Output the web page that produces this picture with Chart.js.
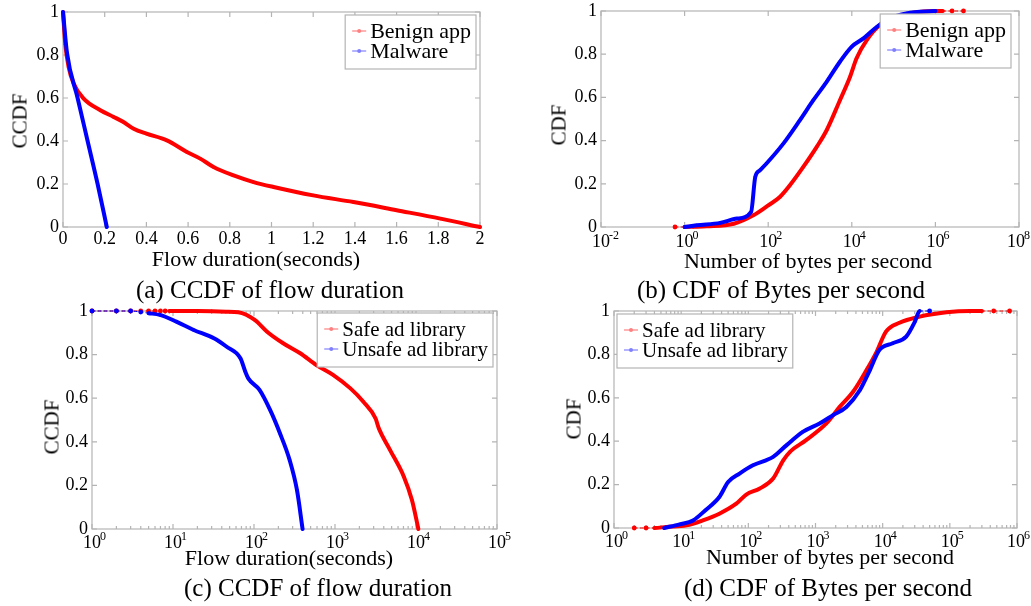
<!DOCTYPE html>
<html>
<head>
<meta charset="utf-8">
<script src="https://cdn.jsdelivr.net/npm/chart.js@4.4.0/dist/chart.umd.min.js"></script>
<style>
html,body{margin:0;padding:0;background:#fff;}
#wrap{position:relative;width:1031px;height:606px;overflow:hidden;font-family:'Liberation Serif','Times New Roman',serif;color:#000;}
canvas{position:absolute;left:0;top:0;}
.t{position:absolute;white-space:nowrap;transform:translate(-50%,-50%);line-height:1;}
.yt{transform:translate(-50%,-50%) rotate(-90deg);}
</style>
</head>
<body>
<div id="wrap">
<canvas id="ca" width="1031" height="606"></canvas>
<canvas id="cb" width="1031" height="606"></canvas>
<canvas id="cc" width="1031" height="606"></canvas>
<canvas id="cd" width="1031" height="606"></canvas>

<div class="t yt" style="left:20px;top:121px;font-size:21px">CCDF</div>
<div class="t" style="left:256px;top:259px;font-size:22px">Flow duration(seconds)</div>
<div class="t" style="left:270px;top:289px;font-size:25px">(a) CCDF of flow duration</div>

<div class="t yt" style="left:559px;top:125px;font-size:21px">CDF</div>
<div class="t" style="left:808px;top:261px;font-size:22px">Number of bytes per second</div>
<div class="t" style="left:781px;top:289px;font-size:25px">(b) CDF of Bytes per second</div>

<div class="t yt" style="left:52px;top:427px;font-size:21px">CCDF</div>
<div class="t" style="left:289px;top:558px;font-size:22px">Flow duration(seconds)</div>
<div class="t" style="left:318px;top:587px;font-size:25px">(c) CCDF of flow duration</div>

<div class="t yt" style="left:574px;top:419px;font-size:21px">CDF</div>
<div class="t" style="left:830px;top:557px;font-size:22px">Number of bytes per second</div>
<div class="t" style="left:828px;top:587px;font-size:25px">(d) CDF of Bytes per second</div>
</div>

<script>
// ---------------- DATA ----------------
// (a) CCDF of flow duration (seconds)
const aBenignX  = [0, 0.011, 0.027, 0.051, 0.099, 0.179, 0.243, 0.29, 0.339, 0.40, 0.498, 0.594, 0.658, 0.722, 0.818, 0.914, 1.01, 1.20, 1.393, 1.6, 1.81, 2.0];
const aBenignY  = [1.0, 0.85, 0.744, 0.667, 0.597, 0.543, 0.512, 0.488, 0.457, 0.434, 0.403, 0.349, 0.318, 0.279, 0.24, 0.209, 0.186, 0.147, 0.116, 0.078, 0.039, 0];
const aMalwareX = [0, 0.019, 0.07, 0.118, 0.166, 0.21];
const aMalwareY = [1, 0.81, 0.6, 0.4, 0.2, 0];
const aXTicks   = [0, 0.2, 0.4, 0.6, 0.8, 1, 1.2, 1.4, 1.6, 1.8, 2];

// (b) CDF of bytes per second
const bBenignX  = [0.59, 1.0, 1.6, 3.4, 15, 44, 100, 190, 330, 690, 1450, 2500, 5200, 9100, 13000, 23000, 47000, 117000, 295000, 890000, 1500000, 2500000, 4700000];
const bBenignY  = [0, 0, 0.001, 0.003, 0.015, 0.054, 0.1, 0.139, 0.193, 0.278, 0.371, 0.448, 0.587, 0.696, 0.781, 0.866, 0.935, 0.974, 0.992, 1.0, 1.0, 1.0, 1.0];
const bMalwareX = [1.0, 1.95, 7.1, 18, 39, 49, 63, 91, 230, 575, 1200, 2500, 5200, 10000, 19000, 40000, 81000, 204000, 1000000];
const bMalwareY = [0, 0.008, 0.019, 0.039, 0.07, 0.232, 0.262, 0.294, 0.386, 0.495, 0.587, 0.672, 0.765, 0.835, 0.873, 0.927, 0.966, 0.989, 1.0];
const bXTicks   = [0.01, 1, 100, 10000, 1000000, 100000000];

// (c) CCDF of flow duration (ad libraries)
const cSafeX    = [1, 2, 3, 4, 5, 6, 7, 8, 9, 10, 15, 20, 30, 45, 64, 102, 145, 229, 372, 589, 955, 1550, 2240, 3160, 3470, 4790, 7080, 8910, 10700];
const cSafeY    = [1, 1, 1, 1, 1, 1, 1, 1, 1, 1, 1, 1, 0.999, 0.997, 0.994, 0.959, 0.905, 0.852, 0.806, 0.752, 0.706, 0.645, 0.584, 0.508, 0.462, 0.362, 0.24, 0.133, 0];
const cUnsafeX  = [1, 2, 3, 4, 5, 6.9, 11, 18, 32, 46, 68, 78, 85, 117, 158, 209, 275, 339, 398];
const cUnsafeY  = [1, 1, 1, 0.995, 0.99, 0.982, 0.951, 0.913, 0.875, 0.836, 0.783, 0.722, 0.691, 0.638, 0.546, 0.439, 0.317, 0.179, 0];
const cXTicks   = [1, 10, 100, 1000, 10000, 100000];

// (d) CDF of bytes per second (ad libraries)
const dSafeX    = [2.0, 3.0, 4.0, 6.0, 12, 21, 37, 66, 93, 148, 234, 331, 417, 724, 1450, 2290, 3630, 5750, 8130, 11200, 17800, 35500, 89000, 200000, 300000, 450000, 776000];
const dSafeY    = [0, 0, 0, 0.005, 0.012, 0.035, 0.066, 0.112, 0.154, 0.182, 0.228, 0.312, 0.351, 0.405, 0.482, 0.558, 0.628, 0.728, 0.812, 0.905, 0.946, 0.974, 0.994, 1.0, 1.0, 1.0, 1.0];
const dUnsafeX  = [5.6, 9.5, 15, 23, 37, 50, 74, 117, 234, 372, 646, 1150, 1820, 2880, 4570, 6460, 8910, 14100, 22400, 30200, 35500, 50000];
const dUnsafeY  = [0, 0.017, 0.035, 0.082, 0.143, 0.212, 0.251, 0.289, 0.328, 0.382, 0.443, 0.482, 0.52, 0.558, 0.635, 0.728, 0.82, 0.851, 0.882, 0.951, 1.0, 1.0];
const dXTicks   = [1, 10, 100, 1000, 10000, 100000, 1000000];

const yTicks    = [0, 0.2, 0.4, 0.6, 0.8, 1];

// ---------------- STYLE / HELPERS ----------------
const SERIF = "'Liberation Serif','Times New Roman',serif";
Chart.defaults.font.family = SERIF;
Chart.defaults.font.size = 18;
Chart.defaults.color = '#000';
const FRAME = '#b4b4b4';
const RED = '#ff0000', BLUE = '#0000ff';
const RED_L = '#ff8080', BLUE_L = '#8080ff';
const PAGE_W = 1031, PAGE_H = 606, YW = 40, XH = 30;

const paperPlugin = {
  id: 'paper',
  beforeDatasetsDraw(chart, args, opts) {
    const {ctx, chartArea: a} = chart;
    const xs = chart.scales.x, ys = chart.scales.y;
    ctx.save();
    ctx.strokeStyle = FRAME;
    ctx.lineWidth = 1.2;
    ctx.strokeRect(a.left, a.top, a.right - a.left, a.bottom - a.top);
    ctx.beginPath();
    const L = 5, M = 3;
    xs.ticks.forEach(t => {
      const p = xs.getPixelForValue(t.value);
      ctx.moveTo(p, a.bottom); ctx.lineTo(p, a.bottom - L);
      ctx.moveTo(p, a.top); ctx.lineTo(p, a.top + L);
    });
    ys.ticks.forEach(t => {
      const p = ys.getPixelForValue(t.value);
      ctx.moveTo(a.left, p); ctx.lineTo(a.left + L, p);
      ctx.moveTo(a.right, p); ctx.lineTo(a.right - L, p);
    });
    if (opts.minor) {
      for (let d = xs.min; d < xs.max; d *= 10) {
        for (let k = 2; k <= 9; k++) {
          const p = xs.getPixelForValue(d * k);
          ctx.moveTo(p, a.bottom); ctx.lineTo(p, a.bottom - M);
          ctx.moveTo(p, a.top); ctx.lineTo(p, a.top + M);
        }
      }
    }
    ctx.stroke();
    ctx.restore();
  },
  afterDatasetsDraw(chart, args, opts) {
    const {ctx, chartArea: a} = chart;
    const xs = chart.scales.x;
    ctx.save();
    // log-axis labels 10^n
    if (opts.logLabels) {
      xs.ticks.forEach(t => {
        let p = xs.getPixelForValue(t.value);
        const e = String(Math.round(Math.log10(t.value)));
        const base = a.bottom + opts.labelOffset;
        ctx.font = '12px ' + SERIF;
        const ew = ctx.measureText(e).width;
        const over = p + 8 + ew - (PAGE_W - 1);
        if (over > 0) p -= over;
        ctx.fillStyle = '#000';
        ctx.textBaseline = 'alphabetic';
        ctx.font = '18px ' + SERIF;
        ctx.textAlign = 'center';
        ctx.fillText('10', p, base);
        ctx.font = '12px ' + SERIF;
        ctx.textAlign = 'left';
        ctx.fillText(e, p + 8, base - 8);
      });
    }
    // legend box
    const lg = opts.legend;
    const items = chart.data.datasets.map(d => ({label: d.label, color: d.legendColor}));
    ctx.font = lg.fontSize + 'px ' + SERIF;
    const maxW = Math.max(...items.map(i => ctx.measureText(i.label).width));
    const w = 25 + maxW + 5, rowH = 20, h = 14 + rowH * items.length;
    const x = lg.align === 'right' ? a.right - lg.inset - w : a.left + lg.inset;
    const y = a.top + lg.top;
    ctx.fillStyle = '#fff';
    ctx.fillRect(x, y, w, h);
    ctx.strokeStyle = FRAME;
    ctx.lineWidth = 1.2;
    ctx.strokeRect(x, y, w, h);
    items.forEach((it, i) => {
      const cy = y + 17 + rowH * i;
      ctx.strokeStyle = it.color;
      ctx.lineWidth = 1.2;
      ctx.beginPath();
      ctx.moveTo(x + 7, cy - 1); ctx.lineTo(x + 21, cy - 1);
      ctx.stroke();
      ctx.fillStyle = it.color;
      ctx.beginPath();
      ctx.arc(x + 14, cy - 1, 2, 0, Math.PI * 2);
      ctx.fill();
      ctx.fillStyle = '#000';
      ctx.textAlign = 'left';
      ctx.textBaseline = 'middle';
      ctx.fillText(it.label, x + 25, cy);
    });
    ctx.restore();
  }
};

// thinBefore / thinAfter: ranges where the original had sparse samples (markers + thin line)
function series(label, xsArr, ysArr, color, light, order, thinBefore, thinAfter) {
  const lo = thinBefore === undefined ? -Infinity : thinBefore;
  const hi = thinAfter === undefined ? Infinity : thinAfter;
  const sparse = x => x < lo || x > hi;
  return {
    label,
    order,
    data: xsArr.map((x, i) => ({x, y: ysArr[i]})),
    borderColor: color,
    backgroundColor: color,
    pointBackgroundColor: color,
    pointBorderWidth: 0,
    pointRadius: c => (c.raw && sparse(c.raw.x)) ? 2.4 : 1.6,
    borderWidth: 4,
    segment: {
      borderWidth: c => (c.p1.parsed.x <= lo || c.p0.parsed.x >= hi) ? 1 : undefined,
      borderDash: c => (c.p1.parsed.x <= lo || c.p0.parsed.x >= hi) ? [3, 3] : undefined
    },
    borderCapStyle: 'round',
    borderJoinStyle: 'round',
    cubicInterpolationMode: 'monotone',
    clip: false,
    legendColor: light
  };
}

function makePanel(id, p) {
  const isLog = p.xType === 'logarithmic';
  new Chart(document.getElementById(id), {
    type: 'line',
    data: {datasets: p.datasets},
    options: {
      responsive: false,
      animation: false,
      events: [],
      layout: {padding: {left: p.L - YW, top: p.T, right: PAGE_W - p.R, bottom: PAGE_H - p.B - XH}},
      plugins: {
        legend: {display: false},
        tooltip: {enabled: false},
        paper: {logLabels: isLog, labelOffset: p.labelOffset, minor: p.minor, legend: p.legend}
      },
      scales: {
        x: {
          type: p.xType, min: p.xMin, max: p.xMax,
          grid: {display: false, drawTicks: false},
          border: {display: false},
          ticks: {display: !isLog, padding: 1, maxRotation: 0, autoSkip: false, callback: v => String(v)},
          afterBuildTicks: s => { s.ticks = p.xTicks.map(v => ({value: v})); },
          afterFit: s => { s.height = XH; s.paddingLeft = 0; s.paddingRight = 0; s.paddingTop = 0; s.paddingBottom = 0; }
        },
        y: {
          type: 'linear', min: 0, max: 1,
          grid: {display: false, drawTicks: false},
          border: {display: false},
          ticks: {padding: 4, autoSkip: false, callback: v => String(v)},
          afterBuildTicks: s => { s.ticks = yTicks.map(v => ({value: v})); },
          afterFit: s => { s.width = YW; s.paddingLeft = 0; s.paddingRight = 0; s.paddingTop = 0; s.paddingBottom = 0; }
        }
      }
    },
    plugins: [paperPlugin]
  });
}

makePanel('ca', {
  xType: 'linear', xMin: 0, xMax: 2, xTicks: aXTicks,
  L: 63, T: 12, R: 480, B: 227,
  legend: {align: 'right', inset: 4, top: 3, fontSize: 22},
  datasets: [series('Benign app', aBenignX, aBenignY, RED, RED_L, 1), series('Malware', aMalwareX, aMalwareY, BLUE, BLUE_L, 0)]
});
makePanel('cb', {
  xType: 'logarithmic', xMin: 0.01, xMax: 1e8, xTicks: bXTicks, labelOffset: 20, minor: false,
  L: 601, T: 11, R: 1019, B: 227,
  legend: {align: 'right', inset: 8, top: 3, fontSize: 22},
  datasets: [series('Benign app', bBenignX, bBenignY, RED, RED_L, 1, 1.0, 1500000), series('Malware', bMalwareX, bMalwareY, BLUE, BLUE_L, 0)]
});
makePanel('cc', {
  xType: 'logarithmic', xMin: 1, xMax: 1e5, xTicks: cXTicks, labelOffset: 19, minor: true,
  L: 92, T: 311, R: 497, B: 529,
  legend: {align: 'right', inset: 4, top: 2, fontSize: 21},
  datasets: [series('Safe ad library', cSafeX, cSafeY, RED, RED_L, 1, 9), series('Unsafe ad library', cUnsafeX, cUnsafeY, BLUE, BLUE_L, 0, 5)]
});
makePanel('cd', {
  xType: 'logarithmic', xMin: 1, xMax: 1e6, xTicks: dXTicks, labelOffset: 19, minor: true,
  L: 614, T: 311, R: 1017, B: 528,
  legend: {align: 'left', inset: 3, top: 3, fontSize: 21},
  datasets: [series('Safe ad library', dSafeX, dSafeY, RED, RED_L, 1, 4.0, 300000), series('Unsafe ad library', dUnsafeX, dUnsafeY, BLUE, BLUE_L, 0, undefined, 35500)]
});
</script>
</body>
</html>
